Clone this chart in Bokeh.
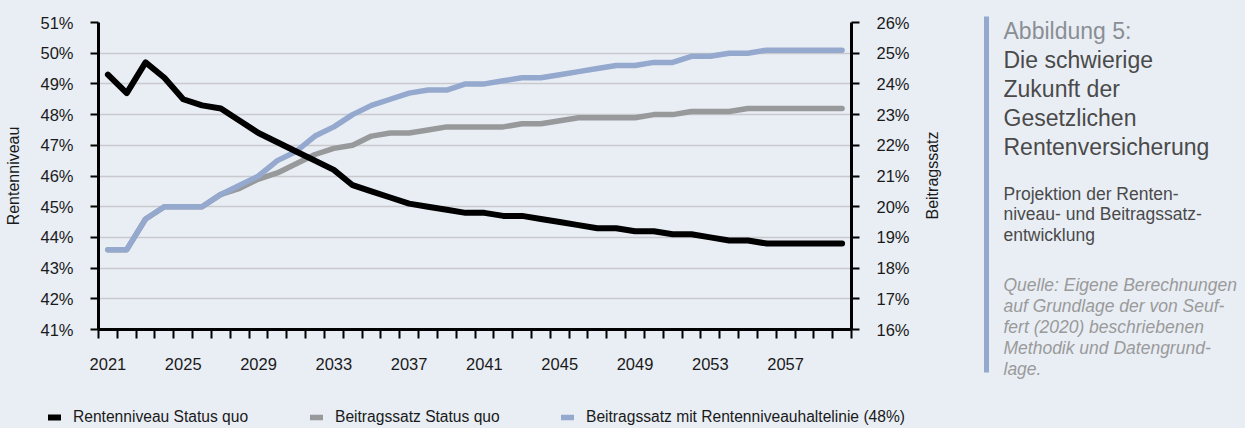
import math
from bokeh.plotting import figure
from bokeh.models import (Range1d, LinearAxis, FixedTicker, CustomJSTickFormatter,
                          Legend, LegendItem, Label, BoxAnnotation)
from bokeh.layouts import row, column
from bokeh.embed import file_html
from bokeh.resources import INLINE

# ---------------- data ----------------
years = list(range(2021, 2061))
rentenniveau_status_quo = [
    49.3, 48.7, 49.7, 49.2, 48.5, 48.3, 48.2, 47.8, 47.4, 47.1,
    46.8, 46.5, 46.2, 45.7, 45.5, 45.3, 45.1, 45.0, 44.9, 44.8,
    44.8, 44.7, 44.7, 44.6, 44.5, 44.4, 44.3, 44.3, 44.2, 44.2,
    44.1, 44.1, 44.0, 43.9, 43.9, 43.8, 43.8, 43.8, 43.8, 43.8]
beitragssatz_status_quo = [
    18.6, 18.6, 19.6, 20.0, 20.0, 20.0, 20.4, 20.6, 20.9, 21.1,
    21.4, 21.7, 21.9, 22.0, 22.3, 22.4, 22.4, 22.5, 22.6, 22.6,
    22.6, 22.6, 22.7, 22.7, 22.8, 22.9, 22.9, 22.9, 22.9, 23.0,
    23.0, 23.1, 23.1, 23.1, 23.2, 23.2, 23.2, 23.2, 23.2, 23.2]
beitragssatz_haltelinie = [
    18.6, 18.6, 19.6, 20.0, 20.0, 20.0, 20.4, 20.7, 21.0, 21.5,
    21.8, 22.3, 22.6, 23.0, 23.3, 23.5, 23.7, 23.8, 23.8, 24.0,
    24.0, 24.1, 24.2, 24.2, 24.3, 24.4, 24.5, 24.6, 24.6, 24.7,
    24.7, 24.9, 24.9, 25.0, 25.0, 25.1, 25.1, 25.1, 25.1, 25.1]
label_years = list(range(2021, 2061, 4))   # 2021 ... 2057
left_ticks = list(range(41, 52))
right_ticks = list(range(16, 27))

series_names = ["Rentenniveau Status quo", "Beitragssatz Status quo",
                "Beitragssatz mit Rentenniveauhaltelinie (48%)"]
left_title = "Rentenniveau"
right_title = "Beitragssatz"
fig_label = "Abbildung 5:"
title_lines = ["Die schwierige", "Zukunft der", "Gesetzlichen", "Rentenversicherung"]
subtitle_lines = ["Projektion der Renten-", "niveau- und Beitragssatz-", "entwicklung"]
source_lines = ["Quelle: Eigene Berechnungen", "auf Grundlage der von Seuf-",
                "fert (2020) beschriebenen", "Methodik und Datengrund-", "lage."]

# ---------------- style ----------------
BG = "#e9eef5"
BLACK = "#000000"
GRAY = "#98999b"
BLUE = "#94a9cd"
GRID = "#c9cacd"
TEXT = "#1a1a1a"
FONT = "Liberation Sans"
TICK_FS = "16.5px"
TITLE_FS = "16px"
LEG_FS = "15.6px"

# page geometry (Bokeh's page template has no body margin)
TOTAL_W, TOTAL_H = 1245, 428
MAIN_W = 915            # main chart figure (x 0 .. 915)
TOP_H = 395             # upper row (y 0 .. 395)
SIDE_W = TOTAL_W - MAIN_W
LEG_H = TOTAL_H - TOP_H
ML, MT = 98, 22
FW, FH = 753, 307

def bare_fig(w, h, xr, yr):
    f = figure(width=w, height=h, output_backend="svg", toolbar_location=None,
               x_range=xr, y_range=yr, x_axis_type=None, y_axis_type=None,
               min_border=0, min_border_left=0, min_border_right=0,
               min_border_top=0, min_border_bottom=0, frame_align=False,
               styles={"background-color": BG})
    f.background_fill_color = BG
    f.border_fill_color = BG
    f.outline_line_color = None
    f.grid.visible = False
    return f

# ---------------- main chart ----------------
p = figure(width=MAIN_W, height=TOP_H, output_backend="svg", toolbar_location=None,
           x_range=Range1d(years[0] - 0.5, years[-1] + 0.5),
           y_range=Range1d(left_ticks[0], left_ticks[-1]),
           min_border_left=ML, min_border_right=MAIN_W - ML - FW,
           min_border_top=MT, min_border_bottom=TOP_H - MT - FH,
           frame_align=False, styles={"background-color": BG})
p.extra_y_ranges = {"beitrag": Range1d(right_ticks[0], right_ticks[-1])}
p.background_fill_color = BG
p.border_fill_color = BG
p.outline_line_color = None
p.xgrid.grid_line_color = None
p.ygrid.ticker = FixedTicker(ticks=left_ticks)
p.ygrid.grid_line_color = GRID
p.ygrid.grid_line_width = 1.5

pct = CustomJSTickFormatter(code="return tick + '%';")

xa = p.xaxis[0]
xa.ticker = FixedTicker(ticks=label_years,
                        minor_ticks=[y - 0.5 for y in years] + [years[-1] + 0.5])
xa.major_tick_out = 0
xa.major_tick_in = 0
xa.minor_tick_out = 9
xa.minor_tick_in = 0
xa.minor_tick_line_width = 2
xa.minor_tick_line_color = BLACK
xa.axis_line_width = 3
xa.axis_line_color = BLACK
xa.major_label_standoff = 19
xa.major_label_text_font = FONT
xa.major_label_text_font_size = TICK_FS
xa.major_label_text_color = TEXT

ya = p.yaxis[0]
ya.ticker = FixedTicker(ticks=left_ticks)
ya.formatter = pct
ya.major_tick_out = 8
ya.major_tick_in = 0
ya.major_tick_line_width = 2
ya.minor_tick_line_color = None
ya.axis_line_width = 3
ya.major_label_standoff = 17
ya.major_label_text_font = FONT
ya.major_label_text_font_size = TICK_FS
ya.major_label_text_color = TEXT
ya.axis_label = left_title
ya.axis_label_standoff = 15
ya.axis_label_text_font = FONT
ya.axis_label_text_font_size = TITLE_FS
ya.axis_label_text_font_style = "normal"
ya.axis_label_text_color = TEXT

ra = LinearAxis(y_range_name="beitrag", ticker=FixedTicker(ticks=right_ticks),
                formatter=pct)
ra.major_tick_out = 8
ra.major_tick_in = 0
ra.major_tick_line_width = 2
ra.minor_tick_line_color = None
ra.axis_line_width = 3
ra.major_label_standoff = 17
ra.major_label_text_font = FONT
ra.major_label_text_font_size = TICK_FS
ra.major_label_text_color = TEXT
p.add_layout(ra, "right")

kw = dict(line_cap="round", line_join="round")
styles = [dict(line_color=BLACK, line_width=6),
          dict(line_color=GRAY, line_width=5.5),
          dict(line_color=BLUE, line_width=5.5)]
series = [rentenniveau_status_quo, beitragssatz_status_quo, beitragssatz_haltelinie]
# gray, then blue, then black on top
p.line(years, beitragssatz_status_quo, y_range_name="beitrag", **styles[1], **kw)
p.line(years, beitragssatz_haltelinie, y_range_name="beitrag", **styles[2], **kw)
p.line(years, rentenniveau_status_quo, **styles[0], **kw)

# ---------------- side panel (x 915 .. 1245, y 0 .. 395) ----------------
SX0 = MAIN_W
q = bare_fig(SIDE_W, TOP_H, Range1d(0, SIDE_W), Range1d(TOP_H, 0))

def qx(px):
    return px - SX0

q.add_layout(Label(x=qx(932), y=175, text=right_title, angle=math.pi / 2,
                   text_align="center", text_baseline="middle", text_font=FONT,
                   text_font_size=TITLE_FS, text_color=TEXT))
q.add_layout(BoxAnnotation(left=qx(983.5), right=qx(988.5), top=16, bottom=372,
                           fill_color=BLUE, fill_alpha=1, line_color=None))
TX = 1003
q.add_layout(Label(x=qx(TX), y=30.7, text=fig_label, text_baseline="alphabetic",
                   text_font=FONT, text_font_size="23px", text_color="#8a8e94"))
for i, t in enumerate(title_lines):
    q.add_layout(Label(x=qx(TX), y=59.5 + 29 * i, text=t, text_baseline="alphabetic",
                       text_font=FONT, text_font_size="23px", text_color="#4a4a4a"))
for i, t in enumerate(subtitle_lines):
    q.add_layout(Label(x=qx(TX), y=193.3 + 20.5 * i, text=t, text_baseline="alphabetic",
                       text_font=FONT, text_font_size="17.5px", text_color="#4a4a4a"))
for i, t in enumerate(source_lines):
    q.add_layout(Label(x=qx(TX), y=284 + 21 * i, text=t, text_baseline="alphabetic",
                       text_font=FONT, text_font_style="italic",
                       text_font_size="17.5px", text_color="#9a9a9a"))

# ---------------- legend strip (y 395 .. 428) ----------------
# legend swatches take their style from copies of the series lines,
# which lie outside this strip's visible range
lg = bare_fig(TOTAL_W, LEG_H, Range1d(0, TOTAL_W), Range1d(0, LEG_H))
for name, st, ys, gx in zip(series_names, styles, series, [48, 310, 561]):
    proxy = lg.line(years, ys, **st, **kw)
    leg = Legend(items=[LegendItem(label=name, renderers=[proxy])],
                 location=(gx, LEG_H - (426.7 - TOP_H)),
                 orientation="horizontal", padding=0, margin=0, spacing=0,
                 glyph_width=13, glyph_height=20, label_height=20,
                 label_standoff=12, border_line_color=None,
                 background_fill_alpha=0,
                 label_text_font=FONT, label_text_font_size=LEG_FS,
                 label_text_color=TEXT)
    lg.add_layout(leg, "center")

layout = column(row(p, q, spacing=0, styles={"background-color": BG}), lg,
                spacing=0, styles={"background-color": BG})
open("out.html", "w").write(file_html(layout, INLINE))
